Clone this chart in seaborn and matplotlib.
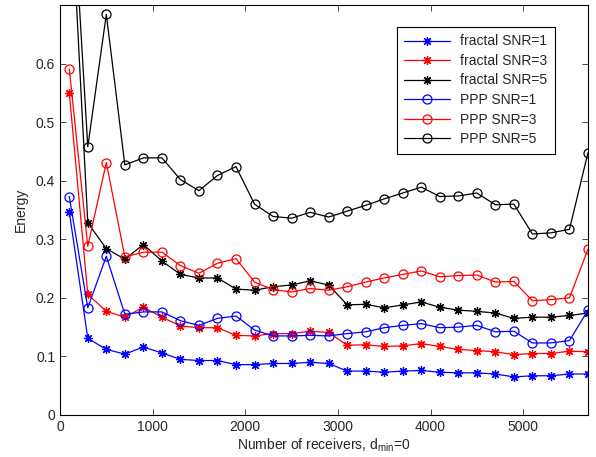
import matplotlib
matplotlib.use("Agg")
import matplotlib.pyplot as plt
import seaborn as sns
import numpy as np

# number of receivers (x), every 200 from 100 to 5700
receivers = np.arange(100, 5701, 200)

fractal_snr1 = [0.347, 0.131, 0.112, 0.104, 0.116, 0.106, 0.095, 0.093, 0.093, 0.086,
                0.086, 0.088, 0.088, 0.090, 0.088, 0.075, 0.075, 0.073, 0.075, 0.076,
                0.073, 0.072, 0.072, 0.070, 0.065, 0.067, 0.067, 0.070, 0.070]
fractal_snr3 = [0.550, 0.206, 0.177, 0.167, 0.184, 0.167, 0.152, 0.149, 0.149, 0.136,
                0.135, 0.139, 0.139, 0.143, 0.141, 0.119, 0.120, 0.117, 0.118, 0.122,
                0.117, 0.112, 0.110, 0.108, 0.103, 0.105, 0.105, 0.109, 0.108]
fractal_snr5 = [0.94, 0.328, 0.284, 0.266, 0.291, 0.263, 0.240, 0.234, 0.234, 0.215,
                0.213, 0.219, 0.222, 0.229, 0.222, 0.188, 0.189, 0.183, 0.188, 0.193,
                0.184, 0.179, 0.177, 0.174, 0.165, 0.167, 0.167, 0.170, 0.174]
ppp_snr1 = [0.373, 0.183, 0.271, 0.172, 0.176, 0.176, 0.161, 0.153, 0.165, 0.169,
            0.145, 0.135, 0.135, 0.136, 0.135, 0.139, 0.142, 0.149, 0.153, 0.156,
            0.149, 0.150, 0.153, 0.142, 0.143, 0.123, 0.123, 0.127, 0.179]
ppp_snr3 = [0.591, 0.288, 0.431, 0.270, 0.278, 0.278, 0.255, 0.242, 0.259, 0.267,
            0.227, 0.214, 0.210, 0.216, 0.213, 0.219, 0.227, 0.234, 0.240, 0.246,
            0.236, 0.238, 0.239, 0.227, 0.228, 0.195, 0.197, 0.200, 0.283]
ppp_snr5 = [0.99, 0.458, 0.684, 0.427, 0.439, 0.439, 0.402, 0.383, 0.409, 0.424,
            0.360, 0.339, 0.336, 0.346, 0.338, 0.348, 0.358, 0.369, 0.379, 0.389,
            0.373, 0.374, 0.379, 0.359, 0.360, 0.309, 0.311, 0.317, 0.448]

x_ticks = [0, 1000, 2000, 3000, 4000, 5000]
y_ticks = [0, 0.1, 0.2, 0.3, 0.4, 0.5, 0.6]
y_ticklabels = ['0', '0.1', '0.2', '0.3', '0.4', '0.5', '0.6']

series = [
    ("fractal SNR=1", fractal_snr1, "#0000ff", "*"),
    ("fractal SNR=3", fractal_snr3, "#ff0000", "*"),
    ("fractal SNR=5", fractal_snr5, "#000000", "*"),
    ("PPP SNR=1", ppp_snr1, "#0000ff", "o"),
    ("PPP SNR=3", ppp_snr3, "#ff0000", "o"),
    ("PPP SNR=5", ppp_snr5, "#000000", "o"),
]

sns.set_style("ticks")
plt.rcParams['font.family'] = ['Liberation Sans', 'DejaVu Sans']
plt.rcParams['mathtext.fontset'] = 'custom'
plt.rcParams['mathtext.rm'] = 'Liberation Sans'

fig = plt.figure(figsize=(5.96, 4.57), dpi=100)
ax = fig.add_axes([60/596, 42/457, 528/596, 410/457])

for name, vals, col, mk in series:
    if mk == "o":
        sns.lineplot(x=receivers, y=vals, ax=ax, color=col, marker="o", markersize=6.5,
                     markerfacecolor="none", markeredgecolor=col, markeredgewidth=0.9,
                     linewidth=0.9, label=name)
    else:
        # MATLAB-style asterisk: 8 spokes
        sns.lineplot(x=receivers, y=vals, ax=ax, color=col, marker=(8, 2, 0), markersize=6.5,
                     markeredgecolor=col, markeredgewidth=0.9,
                     linewidth=0.9, label=name)

ax.set_xlim(0, 5700)
ax.set_ylim(0, 0.7)
ax.set_xticks(x_ticks)
ax.set_xticklabels([str(t) for t in x_ticks])
ax.set_yticks(y_ticks)
ax.set_yticklabels(y_ticklabels)
ax.tick_params(direction='in', top=True, right=True, labelsize=10, length=4, width=0.6, pad=3.5)
for sp in ax.spines.values():
    sp.set_linewidth(0.8)
    sp.set_color('black')

ax.set_xlabel('Number of receivers, d$_{\\mathregular{min}}$=0', fontsize=10, labelpad=2)
ax.set_ylabel('Energy', fontsize=10, labelpad=6)

leg = ax.legend(loc='upper right', bbox_to_anchor=(0.937, 0.947), fontsize=10,
                fancybox=False, framealpha=1, edgecolor='black', handlelength=3.3,
                labelspacing=0.4, borderpad=0.55, handletextpad=0.7, borderaxespad=0)
leg.get_frame().set_linewidth(0.8)

fig.savefig('out.png', dpi=100)
